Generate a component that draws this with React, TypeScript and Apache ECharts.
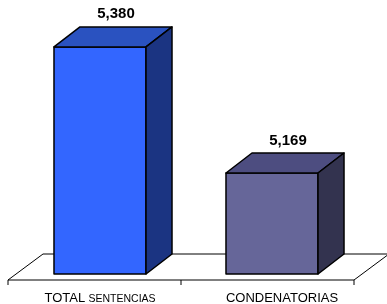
import React, { useEffect, useRef } from "react";
import * as echarts from "echarts";

const categories = ["TOTAL SENTENCIAS", "CONDENATORIAS"];
const values = [5380, 5169];
const valueLabels = ["5,380", "5,169"];
const axisMin = 5000;
const axisMax = 5400;

const FACES = [
  { front: "#3366FF", top: "#2A52C0", side: "#1B3482" },
  { front: "#666699", top: "#4D4D80", side: "#33334F" },
];

export default function App() {
  const ref = useRef<HTMLDivElement>(null);
  useEffect(() => {
    if (!ref.current) return;
    const chart = echarts.init(ref.current, null, { renderer: "svg" });
    const line = { stroke: "#000", lineWidth: 1, fill: null };
    chart.setOption({
      animation: false,
      grid: { left: 14, right: 29, top: 35, bottom: 28 },
      xAxis: {
        type: "category",
        data: categories,
        axisLine: { show: false },
        axisTick: { show: false },
        axisLabel: {
          margin: 16,
          interval: 0,
          formatter: (_v: string, idx: number) =>
            idx === 0 ? "{a|TOTAL} {b|SENTENCIAS}" : "{c|CONDENATORIAS}",
          rich: {
            a: { fontSize: 13, fontFamily: "Liberation Sans, Arial", color: "#000", lineHeight: 15 },
            b: { fontSize: 10.5, fontFamily: "Liberation Sans, Arial", color: "#000", lineHeight: 15 },
            c: { fontSize: 13, fontFamily: "Liberation Sans, Arial", color: "#000", lineHeight: 15, padding: [0, 0, 0, 20] },
          },
        },
      },
      yAxis: { type: "value", min: axisMin, max: axisMax, show: false },
      graphic: [
        { type: "polygon", z: 0, shape: { points: [[8, 280], [354, 280], [389, 254], [43, 254]] }, style: line },
        { type: "line", z: 0, shape: { x1: 8, y1: 280, x2: 8, y2: 285 }, style: line },
        { type: "line", z: 0, shape: { x1: 181, y1: 280, x2: 181, y2: 285 }, style: line },
        { type: "line", z: 0, shape: { x1: 354, y1: 280, x2: 354, y2: 285 }, style: line },
      ],
      series: [
        {
          type: "custom",
          data: values.map((v, i) => [i, v]),
          z: 5,
          renderItem: (params: any, api: any) => {
            const i = api.value(0);
            const v = api.value(1);
            const top = api.coord([i, v]);
            const base = api.coord([i, axisMin]);
            const w = api.size([1, 0])[0] * 0.535;
            const x0 = top[0] - w / 2;
            const x1 = top[0] + w / 2;
            const yT = top[1];
            const yB = base[1];
            const dx = 26;
            const dy = 20;
            const c = FACES[params.dataIndex];
            const st = { stroke: "#000", lineWidth: 1.5, lineJoin: "round" };
            return {
              type: "group",
              children: [
                { type: "polygon", shape: { points: [[x0, yB], [x1, yB], [x1, yT], [x0, yT]] }, style: { fill: c.front, ...st } },
                { type: "polygon", shape: { points: [[x0, yT], [x1, yT], [x1 + dx, yT - dy], [x0 + dx, yT - dy]] }, style: { fill: c.top, ...st } },
                { type: "polygon", shape: { points: [[x1, yB], [x1 + dx, yB - dy], [x1 + dx, yT - dy], [x1, yT]] }, style: { fill: c.side, ...st } },
                {
                  type: "text",
                  style: {
                    text: valueLabels[params.dataIndex],
                    x: top[0] + 16,
                    y: yT - dy - 14,
                    align: "center",
                    verticalAlign: "middle",
                    fontSize: 15,
                    fontWeight: "bold",
                    fontFamily: "Liberation Sans, Arial",
                    fill: "#000",
                  },
                },
              ],
            };
          },
        },
      ],
    });
    return () => chart.dispose();
  }, []);
  return <div ref={ref} style={{ position: "fixed", left: 0, top: 0, width: 387, height: 304 }} />;
}
